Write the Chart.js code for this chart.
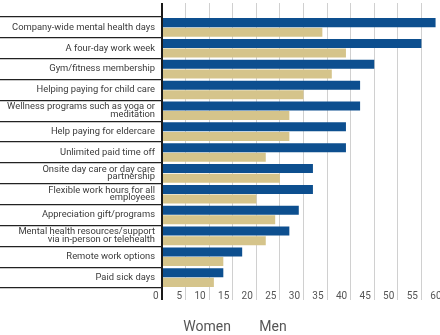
<!DOCTYPE html>
<html>
<head>
<meta charset="utf-8">
<script src="https://cdn.jsdelivr.net/npm/chart.js@4"></script>
<style>
html,body{margin:0;padding:0;overflow:hidden;background:#fff;width:440px;height:335px;}
#wrap{position:absolute;left:0;top:0;width:460px;height:335px;}
</style>
</head>
<body>
<div id="wrap"><canvas id="c" width="460" height="335"></canvas></div>
<script>
const categories = [
  "Company-wide mental health days",
  "A four-day work week",
  "Gym/fitness membership",
  "Helping paying for child care",
  ["Wellness programs such as yoga or", "meditation"],
  "Help paying for eldercare",
  "Unlimited paid time off",
  ["Onsite day care or day care", "partnership"],
  ["Flexible work hours for all", "employees"],
  "Appreciation gift/programs",
  ["Mental health resources/support", "via in-person or telehealth"],
  "Remote work options",
  "Paid sick days"
];
const menValues   = [58, 55, 45, 42, 42, 39, 39, 32, 32, 29, 27, 17, 13];
const womenValues = [34, 39, 36, 30, 27, 27, 22, 25, 20, 24, 22, 13, 11];
const xMin = 0, xMax = 60, xStep = 5;

const BLUE = '#0d4f8f', TAN = '#d5c48b';
const gridColor = ctx => (ctx.tick && ctx.tick.value === 0) ? '#1a1a1a' : '#d0d0d0';
const gridWidth = ctx => (ctx.tick && ctx.tick.value === 0) ? 2 : 1;

new Chart(document.getElementById('c'), {
  type: 'bar',
  data: {
    labels: categories,
    datasets: [
      {label: 'Men', data: menValues, backgroundColor: BLUE, borderWidth: 0,
       categoryPercentage: 0.92, barPercentage: 0.94},
      {label: 'Women', data: womenValues, backgroundColor: TAN, borderWidth: 0,
       categoryPercentage: 0.92, barPercentage: 0.94}
    ]
  },
  options: {
    indexAxis: 'y',
    responsive: false,
    animation: false,
    layout: {padding: {top: 3, left: 0, right: 15, bottom: -9}},
    scales: {
      x: {
        type: 'linear', position: 'bottom', min: xMin, max: xMax,
        border: {display: false},
        grid: {color: gridColor, lineWidth: gridWidth, tickColor: gridColor, drawTicks: true, tickLength: 12},
        ticks: {stepSize: xStep, autoSkip: false, maxRotation: 0, align: 'end', labelOffset: -3.5,
                padding: -10, color: '#555',
                font: {family: 'Roboto', size: 10, lineHeight: 1.2}},
        title: {display: true, text: ' ', color: 'rgba(0,0,0,0)',
                font: {family: 'Roboto', size: 10, lineHeight: 1.2}, padding: {top: 0, bottom: 12.6}}
      },
      x2: {
        type: 'linear', position: 'top', min: xMin, max: xMax, axis: 'x',
        border: {display: false},
        grid: {color: gridColor, lineWidth: gridWidth, tickColor: gridColor, drawOnChartArea: false, drawTicks: true, tickLength: 14},
        ticks: {stepSize: xStep, display: false}
      },
      y: {
        type: 'category',
        border: {display: false},
        grid: {offset: true, drawOnChartArea: false, drawTicks: true, tickLength: 162, color: '#222', tickColor: '#222', lineWidth: 1.2},
        ticks: {autoSkip: false, padding: -155, color: '#3a3a3a',
                font: {family: 'Roboto', size: 9.4, lineHeight: 0.8}},
        afterFit: s => { s.width = 162; }
      }
    },
    plugins: {
      tooltip: {enabled: false},
      legend: {
        position: 'bottom', reverse: true,
        labels: {
          boxWidth: 18, padding: 3.4, color: '#555',
          font: {family: 'Roboto', size: 14},
          generateLabels: chart => Chart.defaults.plugins.legend.labels.generateLabels(chart)
            .map(it => Object.assign(it, {fillStyle: 'rgba(0,0,0,0)', strokeStyle: 'rgba(0,0,0,0)', lineWidth: 0}))
        }
      }
    }
  }
});
</script>
</body>
</html>
